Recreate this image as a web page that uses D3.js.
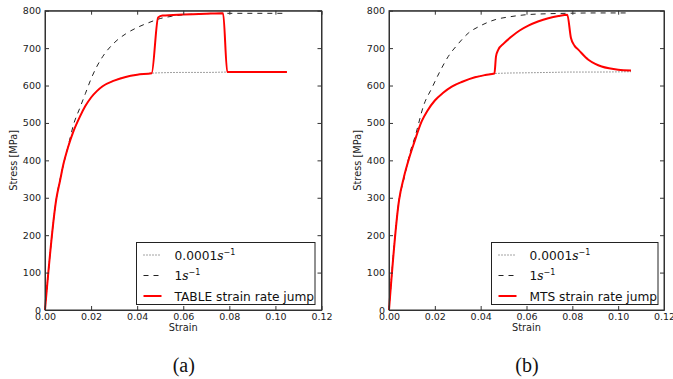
<!DOCTYPE html>
<html>
<head>
<meta charset="utf-8">
<script src="https://cdn.jsdelivr.net/npm/d3@7"></script>
<style>
  body { margin: 0; background: #fff; }
  svg { display: block; }
  .tick text { font-family: "DejaVu Sans", sans-serif; font-size: 9.5px; fill: #222; }
  .tick line, .domain { stroke: #333; }
</style>
</head>
<body>
<svg id="chart" width="673" height="379"></svg>
<script>
// x ticks and y ticks
const xTicks = [0, 0.02, 0.04, 0.06, 0.08, 0.10, 0.12]
const yTicks = [0, 100, 200, 300, 400, 500, 600, 700, 800]

// panel (a): TABLE model
const slowA = [[0,0],[0.005,300],[0.0065,345],[0.008,390],[0.01,435],[0.0125,480],[0.015,515],[0.0175,545],[0.02,568],[0.0225,585],[0.025,598],[0.03,613],[0.035,623],[0.04,629],[0.0463,633],[0.05,634],[0.06,635],[0.07,635],[0.08,636],[0.09,636],[0.105,636]]
const fastA = [[0,0],[0.005,300],[0.0075,375],[0.01,437],[0.0125,498],[0.015,538],[0.0175,578],[0.02,618],[0.0225,651],[0.025,677],[0.03,714],[0.035,738],[0.04,755],[0.045,768],[0.05,779],[0.055,785],[0.06,789],[0.07,792],[0.08,793],[0.09,793],[0.105,793]]
const jumpA = [[0,0],[0.005,300],[0.0065,345],[0.008,390],[0.01,435],[0.0125,480],[0.015,515],[0.0175,545],[0.02,568],[0.0225,585],[0.025,598],[0.03,613],[0.035,623],[0.04,629],[0.0463,633],[0.0491,782],[0.051,787],[0.06,790],[0.07,792],[0.0773,793],[0.0791,636],[0.09,636],[0.105,636]]

// panel (b): MTS model
const slowB = [[0,0],[0.0044,294],[0.0065,355],[0.0085,400],[0.0109,446],[0.0143,505],[0.0167,532],[0.02,560],[0.0235,580],[0.0274,597],[0.032,610],[0.0375,622],[0.042,628],[0.046,632],[0.05,633],[0.06,634],[0.07,635],[0.08,636],[0.09,636],[0.1056,637]]
const fastB = [[0,0],[0.0044,294],[0.0065,350],[0.0095,428],[0.0113,462],[0.0153,550],[0.0186,592],[0.022,635],[0.0259,678],[0.03,710],[0.0346,740],[0.04,760],[0.0463,776],[0.053,784],[0.0594,789],[0.07,792],[0.077,793],[0.09,794],[0.1037,794]]
const jumpB = [[0,0],[0.0044,294],[0.0065,355],[0.0085,400],[0.0109,446],[0.0143,505],[0.0167,532],[0.02,560],[0.0235,580],[0.0274,597],[0.032,610],[0.0375,622],[0.042,628],[0.046,632],[0.0467,678],[0.0477,696],[0.05,712],[0.0535,731],[0.057,747],[0.0608,760],[0.065,771],[0.0695,780],[0.074,786],[0.0778,789],[0.0794,727],[0.081,706],[0.0826,696],[0.087,669],[0.09,658],[0.0928,651],[0.096,646],[0.1,642],[0.1056,640]]

const panels = [
  { left: 45, right: 321.5, slow: slowA, fast: fastA, jump: jumpA, jumpLabel: 'TABLE strain rate jump', caption: '(a)', legendX: 136.5, legendW: 178.5 },
  { left: 389, right: 664, slow: slowB, fast: fastB, jump: jumpB, jumpLabel: 'MTS strain rate jump', caption: '(b)', legendX: 491.5, legendW: 166.5 }
]
const plotTop = 10.7, plotBottom = 310

const svg = d3.select('#chart')

panels.forEach(p => {
  const x = d3.scaleLinear().domain([0, 0.12]).range([p.left, p.right])
  const y = d3.scaleLinear().domain([0, 800]).range([plotBottom, plotTop])
  const g = svg.append('g')

  g.append('rect')
    .attr('x', p.left).attr('y', plotTop)
    .attr('width', p.right - p.left).attr('height', plotBottom - plotTop)
    .attr('fill', '#fff')

  const line = d3.line().x(d => x(d[0])).y(d => y(d[1])).curve(d3.curveMonotoneX)

  g.append('path').datum(p.slow)
    .attr('d', line).attr('fill', 'none')
    .attr('stroke', '#444').attr('stroke-width', 1).attr('stroke-dasharray', '1,2')
  g.append('path').datum(p.fast)
    .attr('d', line).attr('fill', 'none')
    .attr('stroke', '#222').attr('stroke-width', 1).attr('stroke-dasharray', '5,5')
  g.append('path').datum(p.jump)
    .attr('d', line).attr('fill', 'none')
    .attr('stroke', '#ff0000').attr('stroke-width', 2).attr('stroke-linejoin', 'round')

  // axes, ticks inward on all sides
  g.append('g').attr('transform', `translate(0,${plotBottom})`)
    .call(d3.axisBottom(x).tickValues(xTicks).tickFormat(d3.format('.2f')).tickSizeInner(-4).tickSizeOuter(0).tickPadding(3))
  g.append('g').attr('transform', `translate(0,${plotTop})`)
    .call(d3.axisTop(x).tickValues(xTicks).tickFormat('').tickSizeInner(-4).tickSizeOuter(0))
  g.append('g').attr('transform', `translate(${p.left},0)`)
    .call(d3.axisLeft(y).tickValues(yTicks).tickSizeInner(-4).tickSizeOuter(0).tickPadding(4))
  g.append('g').attr('transform', `translate(${p.right},0)`)
    .call(d3.axisRight(y).tickValues(yTicks).tickFormat('').tickSizeInner(-4).tickSizeOuter(0))

  g.append('rect')
    .attr('x', p.left).attr('y', plotTop)
    .attr('width', p.right - p.left).attr('height', plotBottom - plotTop)
    .attr('fill', 'none').attr('stroke', '#333').attr('stroke-width', 1)

  g.append('text')
    .attr('x', (p.left + p.right) / 2).attr('y', 331)
    .attr('text-anchor', 'middle')
    .style('font-family', 'DejaVu Sans, sans-serif').style('font-size', '9.8px').attr('fill', '#222')
    .text('Strain')

  g.append('text')
    .attr('transform', `translate(${p.left - 28},${(plotTop + plotBottom) / 2}) rotate(-90)`)
    .attr('text-anchor', 'middle')
    .style('font-family', 'DejaVu Sans, sans-serif').style('font-size', '9.8px').attr('fill', '#222')
    .text('Stress [MPa]')

  g.append('text')
    .attr('x', (p.left + p.right) / 2 + 0.5).attr('y', 372)
    .attr('text-anchor', 'middle')
    .style('font-family', 'Liberation Serif, serif').style('font-size', '20px').attr('fill', '#111')
    .text(p.caption)

  // legend
  const lg = g.append('g')
  lg.append('rect')
    .attr('x', p.legendX).attr('y', 242.5).attr('width', p.legendW).attr('height', 62)
    .attr('fill', '#fff').attr('stroke', '#222').attr('stroke-width', 1)
  const rows = [
    { y: 255, dash: '1,2', color: '#444', w: 1, label: '0.0001', sup: true },
    { y: 275.5, dash: '5,5', color: '#222', w: 1, label: '1', sup: true },
    { y: 296, dash: null, color: '#ff0000', w: 2, label: p.jumpLabel, sup: false }
  ]
  rows.forEach(r => {
    lg.append('line')
      .attr('x1', p.legendX + 7).attr('x2', p.legendX + 25)
      .attr('y1', r.y).attr('y2', r.y)
      .attr('stroke', r.color).attr('stroke-width', r.w)
      .attr('stroke-dasharray', r.dash)
    const t = lg.append('text')
      .attr('x', p.legendX + 38).attr('y', r.y + 4.5)
      .style('font-family', 'DejaVu Sans, sans-serif').style('font-size', '12.2px').attr('fill', '#111')
    t.append('tspan').text(r.label)
    if (r.sup) {
      t.append('tspan').style('font-family', 'DejaVu Serif, serif').style('font-style', 'italic').text('s')
      t.append('tspan').attr('dy', -5).style('font-size', '8px').text('\u22121')
    }
  })
})
</script>
</body>
</html>
